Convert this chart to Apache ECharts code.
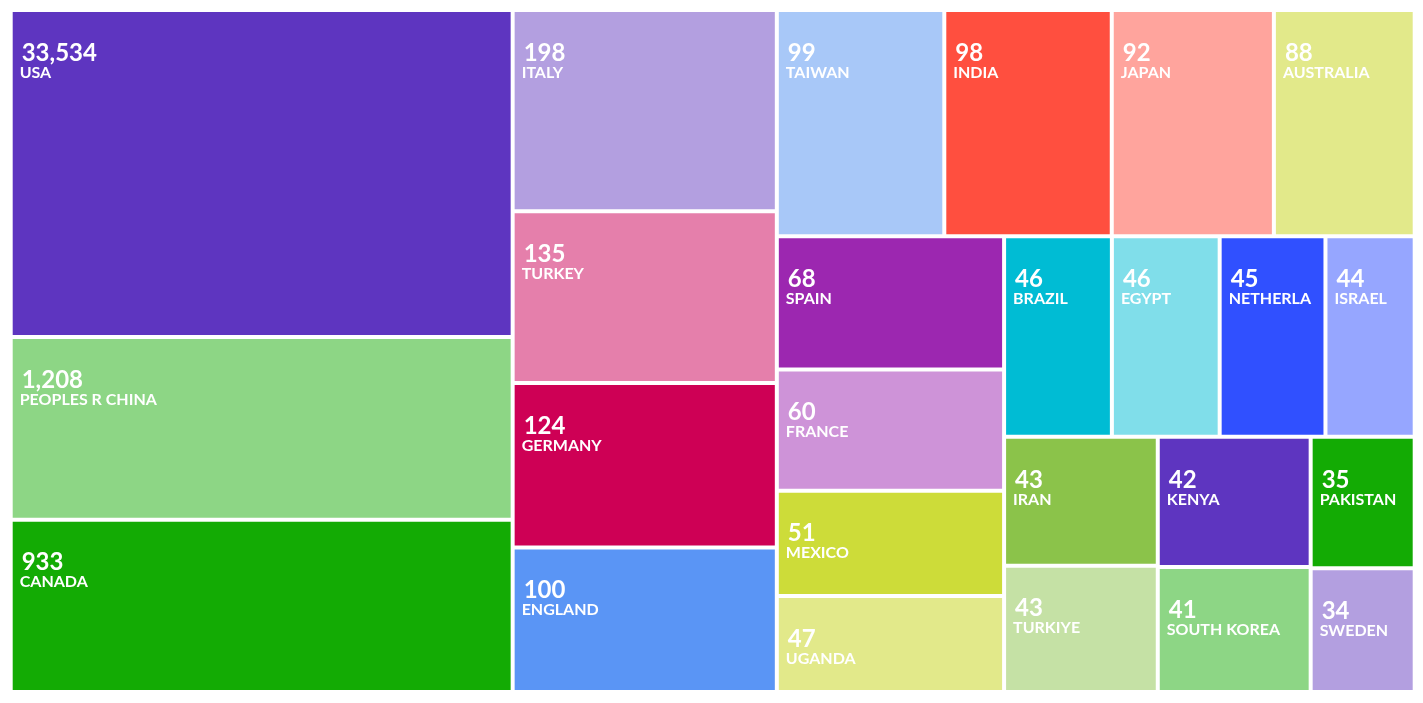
<!DOCTYPE html>
<html>
<head>
<meta charset="utf-8">
<script src="https://cdn.jsdelivr.net/npm/echarts@6/dist/echarts.min.js"></script>
<style>
html,body{margin:0;padding:0;background:#fff;}
#chart{width:1423px;height:703px;}
</style>
</head>
<body>
<div id="chart"></div>
<script>
// Country names (label), publication counts (label value), tile sizes (area weight)
const countries = ['USA','PEOPLES R CHINA','CANADA','ITALY','TURKEY','GERMANY','ENGLAND','TAIWAN','INDIA','JAPAN','AUSTRALIA','SPAIN','FRANCE','MEXICO','UGANDA','BRAZIL','EGYPT','NETHERLANDS','ISRAEL','IRAN','TURKIYE','KENYA','SOUTH KOREA','PAKISTAN','SWEDEN'];
const counts = [33534,1208,933,198,135,124,100,99,98,92,88,68,60,51,47,46,46,45,44,43,43,42,41,35,34];
const tileSizes = [1632,913,860,529,451,432,380,377,377,365,317,301,274,238,217,215,215,211,178,197,193,198,190,136,128];
const tileColors = ['#5E35C0','#8DD685','#13AB04','#B39FE0','#E57FAB','#CE0055','#5A95F5','#A8C8F8','#FF4F3F','#FFA49D','#E2E98A','#9C27B0','#CE93D8','#CDDC39','#E2E98A','#00BCD4','#80DEEA','#3050FF','#96A6FF','#8BC34A','#C5E1A5','#5E35C0','#8DD685','#13AB04','#B39FE0'];

const data = countries.map((name, i) => ({
  name: name,
  value: [tileSizes[i], counts[i]],
  itemStyle: { color: tileColors[i] }
}));

const chart = echarts.init(document.getElementById('chart'));
chart.setOption({
  animation: false,
  series: [{
    type: 'treemap',
    left: 12.7, top: 12, width: 1400, height: 678,
    roam: false,
    nodeClick: false,
    sort: null,
    squareRatio: 0.5 * (1 + Math.sqrt(5)),
    breadcrumb: { show: false },
    itemStyle: { borderWidth: 0, gapWidth: 4, borderColor: '#fff' },
    emphasis: { disabled: true },
    label: {
      show: true,
      position: [7, 28],
      padding: [0, 7, 0, 0],
      overflow: 'truncate',
      ellipsis: '',
      formatter: function (p) {
        return '{v|' + p.value[1].toLocaleString('en-US') + '}' + '\n' + '{n|' + p.name + '}';
      },
      rich: {
        v: { fontFamily: 'Lato', fontWeight: 'bold', fontSize: 24, lineHeight: 26, color: '#fff', padding: [0, 0, 0, 2] },
        n: { fontFamily: 'Lato', fontWeight: 'bold', fontSize: 16, lineHeight: 13, color: '#fff' }
      }
    },
    data: data
  }]
});
</script>
</body>
</html>
